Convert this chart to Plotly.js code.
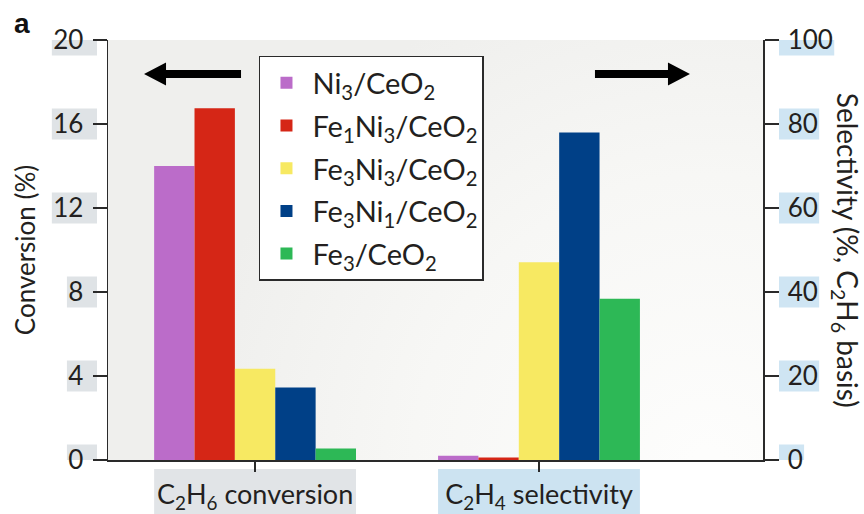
<!DOCTYPE html>
<html>
<head>
<meta charset="utf-8">
<script src="https://cdn.plot.ly/plotly-3.0.1.min.js"></script>
<style>html,body{margin:0;padding:0;background:#fff;} #chart{width:864px;height:514px;}</style>
</head>
<body>
<div id="chart"></div>
<script>
// ---- data ----
const categories = ['C<sub>2</sub>H<sub>6</sub> conversion', 'C<sub>2</sub>H<sub>4</sub> selectivity'];
const catalysts = ['Ni<sub>3</sub>/CeO<sub>2</sub>', 'Fe<sub>1</sub>Ni<sub>3</sub>/CeO<sub>2</sub>', 'Fe<sub>3</sub>Ni<sub>3</sub>/CeO<sub>2</sub>', 'Fe<sub>3</sub>Ni<sub>1</sub>/CeO<sub>2</sub>', 'Fe<sub>3</sub>/CeO<sub>2</sub>'];
const conversion = [14.0, 16.75, 4.35, 3.45, 0.55];      // %, left axis
const selectivity = [1.0, 0.6, 47.1, 78.0, 38.4];        // %, right axis
const colors = ['#bb6cc9', '#d52616', '#f7e962', '#004087', '#2db856'];
const leftTicks = [0, 4, 8, 12, 16, 20];
const rightTicks = [0, 20, 40, 60, 80, 100];

const FONT = 'Lato, "Open Sans", sans-serif';
const TICKSIZE = 26;

function textWidth(t, size) {
  const c = document.createElement('canvas').getContext('2d');
  c.font = size + 'px Lato';
  return c.measureText(t).width;
}

// gradient background image for plot area
function bgImage() {
  const cv = document.createElement('canvas');
  cv.width = 655; cv.height = 420;
  const ctx = cv.getContext('2d');
  ctx.fillStyle = '#efefed';
  ctx.fillRect(0, 0, cv.width, cv.height);
  const g = ctx.createRadialGradient(600, 430, 20, 600, 430, 520);
  g.addColorStop(0, '#fdfdfc');
  g.addColorStop(0.55, '#f7f7f5');
  g.addColorStop(1, '#efefed');
  ctx.fillStyle = g;
  ctx.fillRect(0, 0, cv.width, cv.height);
  return cv.toDataURL('image/png');
}

const traces = [];
catalysts.forEach((name, i) => {
  traces.push({
    type: 'bar', name: name, x: [categories[0]], y: [conversion[i]],
    xaxis: 'x', yaxis: 'y', offsetgroup: 'g' + i, legendgroup: 'g' + i,
    marker: {color: colors[i], line: {width: 0}}, hoverinfo: 'y+name'
  });
});
catalysts.forEach((name, i) => {
  traces.push({
    type: 'bar', name: name, x: [categories[1]], y: [selectivity[i]],
    xaxis: 'x', yaxis: 'y2', offsetgroup: 'g' + i, legendgroup: 'g' + i, showlegend: false,
    marker: {color: colors[i], line: {width: 0}}, hoverinfo: 'y+name'
  });
});

const shapes = [];
leftTicks.forEach(v => {
  const w = textWidth(String(v), TICKSIZE);
  shapes.push({type: 'rect', xref: 'paper', yref: 'y', xsizemode: 'pixel', ysizemode: 'pixel',
    xanchor: 0, x0: -(11 + w + 15), x1: -11, yanchor: v, y0: -15.5, y1: 15.5,
    fillcolor: '#dfe3e6', line: {width: 0}, layer: 'below'});
});
rightTicks.forEach(v => {
  const w = textWidth(String(v), TICKSIZE);
  shapes.push({type: 'rect', xref: 'paper', yref: 'y2', xsizemode: 'pixel', ysizemode: 'pixel',
    xanchor: 1, x0: 16, x1: 16 + w + 10, yanchor: v, y0: -15.5, y1: 15.5,
    fillcolor: '#cfe5f3', line: {width: 0}, layer: 'below'});
});
const catBox = ['#e1e4e7', '#cce3f1'];
categories.forEach((c, i) => {
  shapes.push({type: 'rect', xref: 'x', yref: 'paper', ysizemode: 'pixel', yanchor: 0,
    x0: i - 0.3555, x1: i + 0.3555, y0: -9, y1: -62,
    fillcolor: catBox[i], line: {width: 0}, layer: 'below'});
});
// direction arrows (pixel-sized paths anchored at the arrow tips)
shapes.push({type: 'path', xref: 'paper', yref: 'paper', xsizemode: 'pixel', ysizemode: 'pixel',
  xanchor: 0.055, yanchor: 0.919,
  path: 'M0,0 L22,11.5 L22,4 L97,4 L97,-4 L22,-4 L22,-11.5 Z',
  fillcolor: '#000000', line: {width: 0}});
shapes.push({type: 'path', xref: 'paper', yref: 'paper', xsizemode: 'pixel', ysizemode: 'pixel',
  xanchor: 0.8885, yanchor: 0.919,
  path: 'M0,0 L-22,11.5 L-22,4 L-95,4 L-95,-4 L-22,-4 L-22,-11.5 Z',
  fillcolor: '#000000', line: {width: 0}});

const axisLine = {showline: true, linecolor: '#2a2a2a', linewidth: 1.5, ticks: 'outside',
  tickcolor: '#2a2a2a', tickwidth: 1.5, showgrid: false, zeroline: false};

const layout = {
  width: 864, height: 514,
  margin: {l: 108, r: 101, t: 40, b: 54, pad: 0},
  paper_bgcolor: '#ffffff', plot_bgcolor: 'rgba(0,0,0,0)',
  font: {family: FONT, color: '#231f20', size: 24},
  barmode: 'group', bargap: 0.289, bargroupgap: 0,
  showlegend: true,
  legend: {x: 0.2305, y: 0.962, xanchor: 'left', yanchor: 'top',
    bgcolor: '#ffffff', bordercolor: '#2a2a2a', borderwidth: 1.5, itemwidth: 42,
    font: {family: FONT, size: 29, color: '#231f20'}, tracegroupgap: 2, traceorder: 'grouped'},
  xaxis: Object.assign({}, axisLine, {type: 'category', range: [-0.518, 1.789],
    ticklen: 10, tickfont: {family: FONT, size: 27}, mirror: false}),
  yaxis: Object.assign({}, axisLine, {range: [0, 20], tickvals: leftTicks, ticklen: 14,
    ticklabelstandoff: 4, tickfont: {family: FONT, size: TICKSIZE},
    title: {text: 'Conversion (%)', font: {family: FONT, size: 26}, standoff: 10}}),
  yaxis2: Object.assign({}, axisLine, {range: [0, 100], tickvals: rightTicks, ticklen: 14,
    ticklabelstandoff: 4, overlaying: 'y', side: 'right', tickfont: {family: FONT, size: TICKSIZE}}),
  shapes: shapes,
  images: [{source: bgImage(), xref: 'paper', yref: 'paper', x: 0, y: 1, sizex: 1, sizey: 1,
    xanchor: 'left', yanchor: 'top', sizing: 'stretch', layer: 'below'}],
  annotations: [
    {text: '<b>a</b>', xref: 'paper', yref: 'paper', x: -0.146, y: 1.08, xanchor: 'left', yanchor: 'top',
      showarrow: false, font: {family: 'Liberation Sans, Arial, sans-serif', size: 28, color: '#111'}},
    {text: 'Selectivity (%, C<sub>2</sub>H<sub>6</sub> basis)', xref: 'paper', yref: 'paper',
      x: 1.127, y: 0.5, xanchor: 'center', yanchor: 'middle', textangle: 90, showarrow: false,
      font: {family: FONT, size: 28}}
  ]
};

Plotly.newPlot('chart', traces, layout, {displayModeBar: false, staticPlot: true});
</script>
</body>
</html>
